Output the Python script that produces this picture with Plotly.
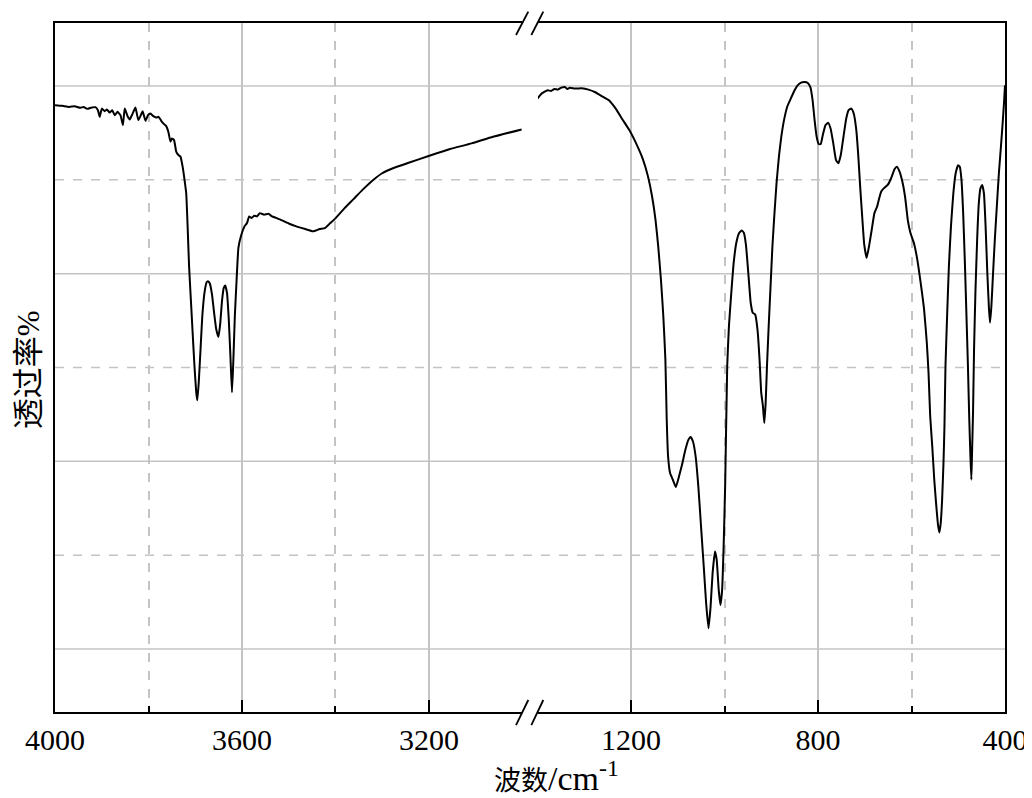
import plotly.graph_objects as go

# ---------------- data ----------------
wn_left = [4000.0, 3984.7, 3969.4, 3957.9, 3946.5, 3938.8, 3931.2, 3921.2, 3913.6, 3908.2,
           3904.4, 3899.8, 3893.7, 3889.1, 3883.0, 3877.6, 3872.3, 3866.2, 3860.0, 3854.7,
           3850.9, 3844.7, 3840.1, 3834.0, 3827.9, 3821.8, 3816.4, 3812.6, 3806.5, 3801.1,
           3795.8, 3789.7, 3783.6, 3778.2, 3772.8, 3766.7, 3762.1, 3757.6, 3753.0, 3749.9,
           3745.3, 3740.7, 3736.1, 3731.6, 3727.0, 3722.4, 3719.3, 3716.3, 3713.2, 3709.4,
           3705.6, 3701.7, 3697.9, 3695.6, 3692.5, 3688.7, 3684.9, 3680.3, 3675.7, 3672.7,
           3668.8, 3664.2, 3659.7, 3655.1, 3650.5, 3646.7, 3642.8, 3639.0, 3635.9, 3632.1,
           3628.3, 3624.5, 3621.4, 3618.4, 3615.3, 3611.5, 3607.7, 3602.3, 3594.6, 3589.3,
           3584.7, 3579.4, 3574.0, 3567.9, 3561.8, 3552.6, 3543.4, 3535.8, 3525.8, 3514.3,
           3499.0, 3483.8, 3464.6, 3447.8, 3434.0, 3422.6, 3411.1, 3399.6, 3380.5, 3361.4,
           3342.3, 3319.3, 3300.2, 3277.2, 3246.7, 3200.8, 3154.9, 3109.0, 3063.1, 3001.9]
t_left = [77.95, 77.88, 77.77, 77.84, 77.67, 77.77, 77.56, 77.70, 77.74, 77.42,
          76.71, 77.59, 77.31, 77.49, 77.17, 77.42, 76.89, 77.24, 76.89, 75.83,
          77.59, 76.78, 76.43, 77.06, 77.70, 76.36, 76.89, 77.31, 76.29, 76.89,
          77.06, 76.78, 76.64, 76.71, 76.29, 75.93, 75.72, 75.12, 74.06, 74.41,
          74.23, 73.00, 72.64, 72.47, 71.40, 69.81, 68.57, 65.03, 60.79, 57.25,
          53.72, 50.18, 47.35, 46.50, 48.41, 51.95, 55.49, 57.96, 59.09, 59.20,
          58.95, 57.79, 55.84, 54.07, 53.26, 54.60, 57.08, 58.49, 58.74, 57.96,
          55.13, 50.89, 47.35, 50.89, 55.49, 59.38, 62.74, 63.98, 65.04, 65.39,
          66.10, 65.92, 66.17, 66.10, 66.45, 66.28, 66.38, 66.10, 65.92, 65.67,
          65.32, 65.04, 64.75, 64.51, 64.75, 64.86, 65.39, 65.92, 66.98, 67.94,
          68.93, 69.99, 70.70, 71.23, 71.76, 72.54, 73.28, 73.88, 74.59, 75.37]

wn_right = [1400.0, 1392.7, 1385.5, 1378.2, 1370.9, 1363.6, 1356.4, 1349.1, 1341.8, 1336.0,
            1330.9, 1320.0, 1305.5, 1290.9, 1276.4, 1261.8, 1247.3, 1232.7, 1218.2, 1203.6,
            1189.1, 1174.5, 1163.6, 1154.9, 1147.6, 1141.8, 1136.0, 1130.9, 1126.5, 1123.6,
            1120.7, 1116.4, 1110.5, 1104.0, 1098.2, 1090.9, 1083.6, 1077.8, 1072.7, 1067.6,
            1061.8, 1056.0, 1050.2, 1044.4, 1039.3, 1034.2, 1029.8, 1025.5, 1020.4, 1016.7,
            1012.4, 1008.7, 1005.1, 1001.5, 998.5, 994.2, 990.5, 985.5, 980.4, 974.5,
            968.7, 962.9, 958.5, 954.2, 949.1, 944.0, 939.6, 934.5, 929.5, 925.1,
            921.5, 917.8, 914.9, 912.0, 909.1, 905.5, 901.8, 897.5, 893.1, 888.7,
            883.6, 878.5, 872.7, 865.5, 858.2, 850.9, 843.6, 836.4, 829.1, 821.8,
            816.0, 811.6, 807.3, 802.9, 798.5, 794.2, 789.8, 784.0, 778.2, 773.1,
            767.3, 761.5, 756.4, 751.3, 745.5, 739.6, 734.5, 728.7, 723.6, 718.5,
            714.2, 709.8, 705.5, 701.1, 696.0, 690.9, 685.1, 679.3, 673.5, 669.1,
            664.7, 658.9, 650.9, 643.6, 636.4, 631.3, 625.5, 619.6, 613.8, 608.0,
            602.2, 594.9, 587.6, 580.4, 573.1, 567.3, 563.6, 560.0, 555.6, 551.3,
            546.9, 543.3, 540.4, 537.5, 534.5, 531.6, 529.5, 527.3, 523.6, 520.0,
            515.6, 510.5, 505.5, 500.4, 496.7, 493.1, 489.5, 485.8, 482.2, 479.3,
            476.4, 474.2, 472.0, 470.5, 468.4, 466.2, 463.3, 459.6, 456.0, 452.4,
            448.7, 445.1, 441.5, 437.8, 434.2, 432.0, 429.1, 425.5, 421.8, 417.5,
            413.1, 408.7, 405.1, 402.2, 400.0]
t_right = [78.66, 79.12, 79.36, 79.54, 79.47, 79.68, 79.61, 79.82, 79.89, 79.68,
           79.82, 79.72, 79.75, 79.61, 79.33, 78.90, 78.48, 77.59, 76.43, 75.30,
           73.88, 72.18, 70.34, 68.22, 65.74, 62.91, 59.38, 55.49, 50.89, 44.45,
           40.53, 38.75, 38.04, 37.26, 38.22, 39.64, 41.25, 42.24, 42.60, 42.14,
           40.53, 37.33, 33.06, 28.79, 24.88, 22.21, 24.52, 28.08, 30.39, 29.50,
           26.30, 24.70, 26.30, 31.64, 37.69, 50.18, 54.43, 57.96, 61.15, 63.34,
           64.33, 64.61, 64.33, 63.09, 60.08, 56.90, 55.84, 55.66, 54.07, 50.89,
           47.35, 45.87, 44.09, 46.23, 50.18, 54.43, 58.32, 62.91, 66.45, 69.64,
           72.47, 74.59, 76.36, 77.84, 78.66, 79.47, 80.07, 80.35, 80.42, 80.32,
           79.82, 78.48, 76.36, 74.59, 73.81, 73.81, 74.76, 75.83, 76.07, 75.47,
           73.88, 72.11, 71.76, 72.64, 74.59, 76.53, 77.42, 77.59, 77.06, 75.47,
           72.82, 69.28, 66.10, 63.09, 61.68, 62.91, 64.68, 66.45, 67.16, 68.04,
           68.75, 69.11, 69.46, 70.17, 71.12, 71.40, 70.87, 69.81, 68.22, 65.74,
           64.33, 63.27, 61.50, 59.02, 56.19, 52.66, 49.47, 44.80, 41.60, 38.04,
           35.20, 33.24, 32.42, 33.42, 35.91, 39.82, 43.74, 50.18, 55.84, 60.79,
           65.04, 68.57, 70.70, 71.55, 71.40, 69.99, 66.45, 61.15, 55.13, 50.18,
           44.45, 40.89, 38.04, 40.89, 45.16, 51.95, 57.96, 63.62, 67.51, 69.11,
           69.46, 68.57, 65.04, 60.08, 56.19, 54.78, 56.55, 60.08, 63.62, 67.16,
           70.70, 73.53, 76.00, 78.13, 80.07]

left_range = [4000, 3001]
right_range = [1399, 400]
y_range = [13.29, 86.71]
grid_major_y = [20, 40, 60, 80]
grid_minor_y = [30, 50, 70]

# ---------------- figure ----------------
FONT = "Times New Roman, Liberation Serif, DejaVu Serif, serif, Noto Sans CJK SC"
GRID = "#c4c4c4"
line_style = dict(color="black", width=2.0, shape="spline", smoothing=0.4)

fig = go.Figure()
fig.add_trace(go.Scatter(x=wn_left, y=t_left, mode="lines", line=line_style,
                         xaxis="x", yaxis="y", showlegend=False, hoverinfo="skip"))
fig.add_trace(go.Scatter(x=wn_right, y=t_right, mode="lines", line=line_style,
                         xaxis="x2", yaxis="y2", showlegend=False, hoverinfo="skip"))

L_END = 0.4916
R_START = 0.5084

xcommon = dict(
    showline=True, linecolor="black", linewidth=2, mirror=True, automargin=False,
    ticks="inside", ticklen=12, tickwidth=1.5, tickcolor="black",
    dtick=400, tick0=0, showgrid=True, gridcolor=GRID, gridwidth=1.5,
    zeroline=False, tickfont=dict(family=FONT, size=30, color="black"),
    minor=dict(dtick=200, tick0=0, ticks="inside", ticklen=6, tickwidth=1.5,
               tickcolor="black", showgrid=True, gridcolor=GRID, gridwidth=1.5,
               griddash="dash"),
)
ycommon = dict(range=y_range, showline=True, linecolor="black", linewidth=2,
               automargin=False, showticklabels=False, ticks="", showgrid=False,
               zeroline=False)

# page body has an 8px default margin: the figure is sized to fit the window
fig.update_layout(
    width=1024, height=790,
    margin=dict(l=47, r=27, t=15, b=86, autoexpand=False),
    paper_bgcolor="white", plot_bgcolor="white",
    font=dict(family=FONT, color="black"),
    xaxis=dict(domain=[0, L_END], range=left_range, anchor="y", **xcommon),
    xaxis2=dict(domain=[R_START, 1], range=right_range, anchor="y2", **xcommon),
    yaxis=dict(anchor="x", side="left", **ycommon),
    yaxis2=dict(anchor="x2", side="right", **ycommon),
)

shapes = []
for v in grid_major_y:
    shapes.append(dict(type="line", xref="paper", yref="y", x0=0, x1=1, y0=v, y1=v,
                       line=dict(color=GRID, width=1.5), layer="below"))
for v in grid_minor_y:
    shapes.append(dict(type="line", xref="paper", yref="y", x0=0, x1=1, y0=v, y1=v,
                       line=dict(color=GRID, width=1.5, dash="dash"), layer="below"))
# axis break marks "//" on top and bottom frame
for (x0, x1) in [(0.4853, 0.4982), (0.5014, 0.5140)]:
    shapes.append(dict(type="line", xref="paper", yref="paper", x0=x0, x1=x1,
                       y0=0.9826, y1=1.0164, line=dict(color="black", width=1.8)))
    shapes.append(dict(type="line", xref="paper", yref="paper", x0=x0, x1=x1,
                       y0=-0.0189, y1=0.0174, line=dict(color="black", width=1.8)))
fig.update_layout(shapes=shapes)

fig.add_annotation(text="波数<span style='font-size:34px'>/cm<sup>-1</sup></span>",
                   xref="paper", yref="paper",
                   x=0.528, y=-0.093, xanchor="center", yanchor="middle",
                   showarrow=False, font=dict(family=FONT, size=27, color="black"))
fig.add_annotation(text="透过率%", xref="paper", yref="paper",
                   x=-0.0284, y=0.496, xanchor="center", yanchor="middle",
                   textangle=-90, showarrow=False,
                   font=dict(family=FONT, size=31, color="black"))

fig.write_html("out.html")
